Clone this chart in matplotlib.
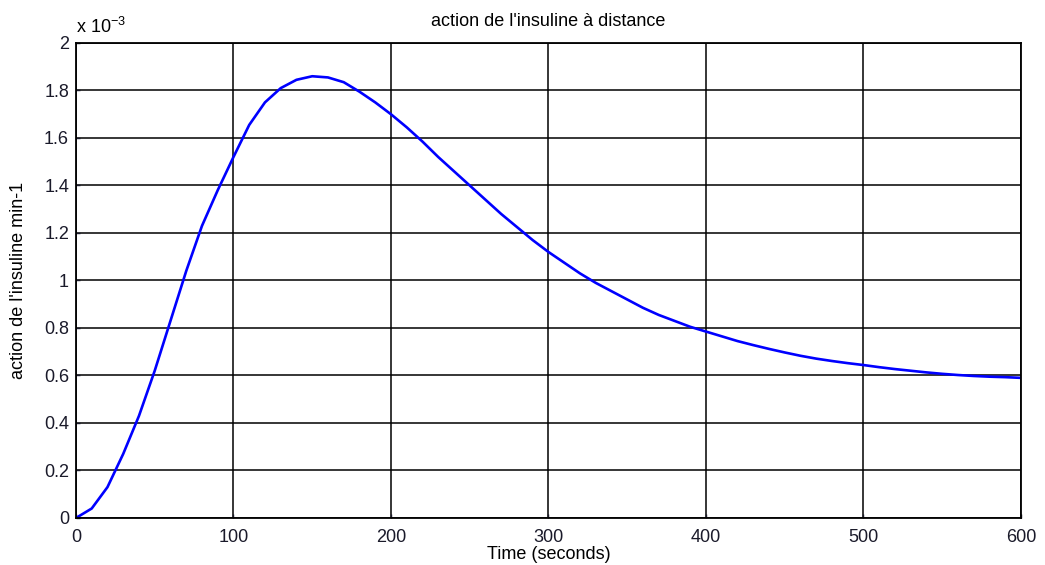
import matplotlib
matplotlib.use("Agg")
import matplotlib.pyplot as plt
from matplotlib.ticker import FuncFormatter

# time in seconds, action (units of 1e-3 min-1)
time_s = [0, 10, 20, 30, 40, 50, 60, 70, 80, 90, 100, 110, 120, 130, 140,
          150, 160, 170, 180, 190, 200, 210, 220, 230, 240, 250, 260, 270,
          280, 290, 300, 310, 320, 330, 340, 350, 360, 370, 380, 390, 400,
          410, 420, 430, 440, 450, 460, 470, 480, 490, 500, 510, 520, 530,
          540, 550, 560, 570, 580, 590, 600]
action_e3 = [0.0, 0.04, 0.13, 0.27, 0.43, 0.62, 0.83, 1.04, 1.23, 1.38, 1.52,
             1.655, 1.75, 1.81, 1.845, 1.86, 1.855, 1.835, 1.795, 1.75, 1.70,
             1.645, 1.585, 1.52, 1.46, 1.40, 1.34, 1.28, 1.225, 1.17, 1.12,
             1.075, 1.03, 0.99, 0.955, 0.92, 0.885, 0.855, 0.83, 0.805, 0.785,
             0.765, 0.745, 0.728, 0.712, 0.697, 0.683, 0.671, 0.661, 0.652, 0.644,
             0.635, 0.627, 0.62, 0.613, 0.607, 0.602, 0.598, 0.595, 0.593, 0.59]

x_ticks = [0, 100, 200, 300, 400, 500, 600]
y_ticks = [0, 0.2, 0.4, 0.6, 0.8, 1.0, 1.2, 1.4, 1.6, 1.8, 2.0]

plt.rcParams['font.family'] = ['Liberation Sans', 'DejaVu Sans']

fig = plt.figure(figsize=(10.45, 5.65), dpi=100)
ax = fig.add_axes([0.0727, 0.0832, 0.9043, 0.8407])

ax.plot(time_s, [v * 1e-3 for v in action_e3], color='#0000ff', lw=1.9)

ax.set_xlim(0, 600)
ax.set_ylim(0, 2e-3)
ax.set_xticks(x_ticks)
ax.set_yticks([v * 1e-3 for v in y_ticks])
ax.yaxis.set_major_formatter(FuncFormatter(lambda v, p: '%g' % round(v * 1e3, 3)))
ax.grid(True, color='black', lw=1.1)
ax.tick_params(direction='in', length=3, width=1, labelsize=13, colors='#1a1a2a')
ax.tick_params(axis='x', pad=8)
ax.tick_params(axis='y', pad=5)
for s in ax.spines.values():
    s.set_linewidth(1.3)

ax.set_title("action de l'insuline à distance", fontsize=13, pad=12)
ax.set_xlabel("Time (seconds)", fontsize=13, labelpad=0)
ax.set_ylabel("action de l'insuline min-1", fontsize=13, labelpad=12)
ax.text(0.0, 1.012, r'x 10$^{\mathregular{-3}}$', transform=ax.transAxes,
        fontsize=13, ha='left', va='bottom')

fig.savefig("out.png")
